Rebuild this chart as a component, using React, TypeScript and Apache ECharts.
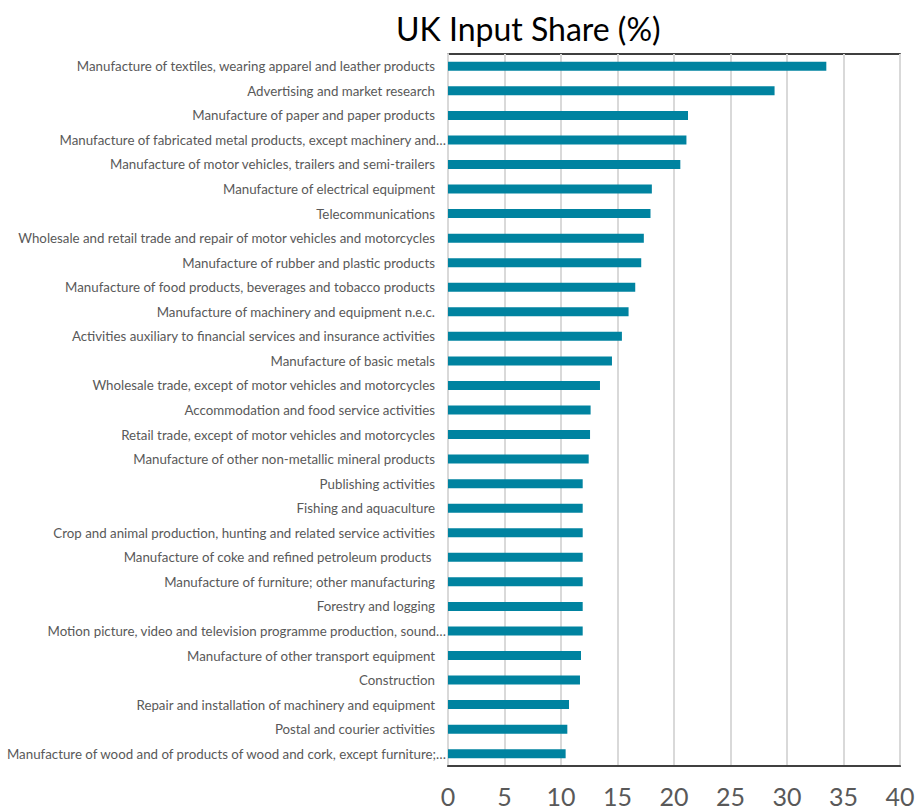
import React, { useEffect, useRef } from "react";
import * as echarts from "echarts";

const categories = [
  "Manufacture of textiles, wearing apparel and leather products",
  "Advertising and market research",
  "Manufacture of paper and paper products",
  "Manufacture of fabricated metal products, except machinery and…",
  "Manufacture of motor vehicles, trailers and semi-trailers",
  "Manufacture of electrical equipment",
  "Telecommunications",
  "Wholesale and retail trade and repair of motor vehicles and motorcycles",
  "Manufacture of rubber and plastic products",
  "Manufacture of food products, beverages and tobacco products",
  "Manufacture of machinery and equipment n.e.c.",
  "Activities auxiliary to financial services and insurance activities",
  "Manufacture of basic metals",
  "Wholesale trade, except of motor vehicles and motorcycles",
  "Accommodation and food service activities",
  "Retail trade, except of motor vehicles and motorcycles",
  "Manufacture of other non-metallic mineral products",
  "Publishing activities",
  "Fishing and aquaculture",
  "Crop and animal production, hunting and related service activities",
  "Manufacture of coke and refined petroleum products ",
  "Manufacture of furniture; other manufacturing",
  "Forestry and logging",
  "Motion picture, video and television programme production, sound…",
  "Manufacture of other transport equipment",
  "Construction",
  "Repair and installation of machinery and equipment",
  "Postal and courier activities",
  "Manufacture of wood and of products of wood and cork, except furniture;…",
];

const ukInputShare = [
  33.48, 28.9, 21.24, 21.1, 20.56, 18.04, 17.92, 17.33, 17.1, 16.57, 15.98,
  15.39, 14.51, 13.45, 12.62, 12.57, 12.45, 11.92, 11.92, 11.92, 11.92, 11.92,
  11.92, 11.92, 11.77, 11.68, 10.71, 10.56, 10.41,
];

const xTicks = [0, 5, 10, 15, 20, 25, 30, 35, 40];

export default function App() {
  const ref = useRef<HTMLDivElement>(null);
  useEffect(() => {
    if (!ref.current) return;
    const chart = echarts.init(ref.current, undefined, { renderer: "svg" });
    const labelText = { fontFamily: "Lato", fontSize: 13.3, color: "#595959" };
    chart.setOption({
      animation: false,
      textStyle: { fontFamily: "Lato" },
      title: {
        text: "UK Input Share (%)",
        left: 391,
        top: 7,
        textStyle: { fontFamily: "Lato", fontSize: 32, fontWeight: "normal", color: "#000" },
      },
      grid: {
        left: 448,
        right: 15,
        top: 54,
        bottom: 43,
        show: true,
        borderColor: "#000",
        borderWidth: 1.5,
        backgroundColor: "transparent",
        outerBoundsMode: "none",
        containLabel: false,
      },
      xAxis: {
        type: "value",
        min: xTicks[0],
        max: xTicks[xTicks.length - 1],
        interval: 5,
        axisLine: { show: true, lineStyle: { color: "#404040", width: 2 } },
        axisTick: { show: false },
        splitLine: { show: true, lineStyle: { color: "#d9d9d9", width: 2 } },
        axisLabel: { fontFamily: "Lato", fontSize: 25, color: "#595959", margin: 17 },
      },
      yAxis: {
        type: "category",
        data: categories,
        inverse: true,
        axisLine: { show: true, lineStyle: { color: "#d9d9d9", width: 2 } },
        axisTick: { show: false },
        axisLabel: {
          ...labelText,
          margin: 2,
          formatter: (v: string) => (v.endsWith("…") ? `{e|${v}}` : `{n|${v}}`),
          rich: {
            n: { ...labelText, padding: [0, 11, 0, 0] },
            e: { ...labelText, padding: [0, 0, 0, 0] },
          },
        },
      },
      series: [
        {
          type: "bar",
          data: ukInputShare,
          barWidth: 9,
          itemStyle: { color: "#0083A0" },
        },
      ],
    });
    return () => chart.dispose();
  }, []);
  return <div ref={ref} style={{ width: 915, height: 809, position: "absolute", left: 0, top: 0 }} />;
}
